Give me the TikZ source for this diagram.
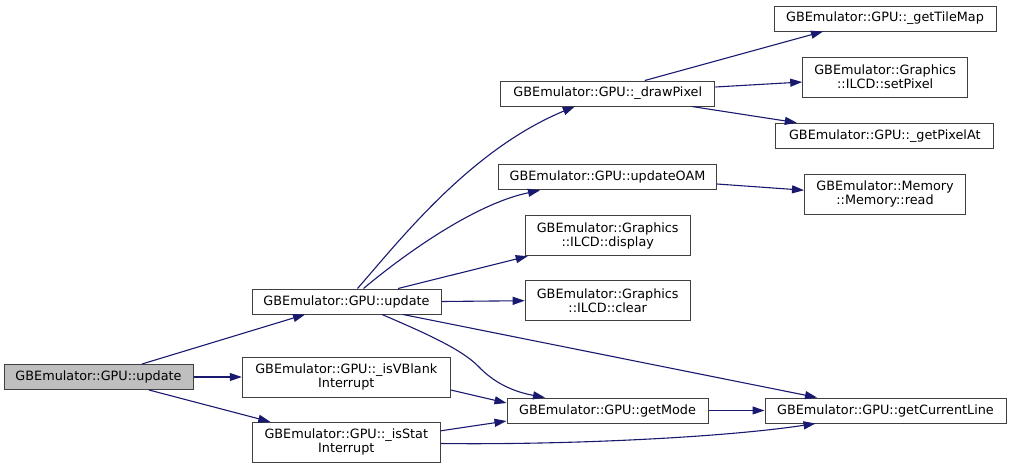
\documentclass[tikz,border=0pt]{standalone}
\usepackage{fontspec}
\setmainfont{DejaVu Sans}
\usepackage{tikz}
\usetikzlibrary{arrows.meta, positioning}
\definecolor{edgeblue}{HTML}{191970}
\newcommand{\gfont}{\fontsize{12.8}{14}\selectfont}

\begin{document}
\begin{tikzpicture}[x=1pt, y=-1pt, >={Triangle[length=12pt,width=8pt]},
    box/.style={draw=black!75, line width=1pt, fill=white, font=\gfont, inner sep=0pt, minimum height=25pt},
    box2/.style={box, minimum height=40pt, align=center},
    call/.style={->, draw=edgeblue, line width=1.1pt}]
    \useasboundingbox (0,0) rectangle (1011,469);

    % Root node
    \node[box, fill=black!25, minimum width=189pt] (root) at (98.5,377) {GBEmulator::GPU::update};

    % Called from root
    \node[box, minimum width=189pt] (upd) at (346.5,301.5) {GBEmulator::GPU::update};
    \node[box2, minimum width=208pt] (vblank) at (346.3,377) {GBEmulator::GPU::\_isVBlank\\Interrupt};
    \node[box2, minimum width=188pt] (stat) at (346.3,442.3) {GBEmulator::GPU::\_isStat\\Interrupt};

    % Called from update
    \node[box, minimum width=214pt] (drawpx) at (607.8,93.5) {GBEmulator::GPU::\_drawPixel};
    \node[box, minimum width=218pt] (oam) at (607.5,177.3) {GBEmulator::GPU::updateOAM};
    \node[box2, minimum width=165pt] (display) at (607.7,235.7) {GBEmulator::Graphics\\::ILCD::display};
    \node[box2, minimum width=165pt] (clear) at (607.7,300.7) {GBEmulator::Graphics\\::ILCD::clear};
    \node[box, minimum width=201pt] (getmode) at (607.5,410.5) {GBEmulator::GPU::getMode};

    % Leaves
    \node[box, minimum width=222pt] (tilemap) at (885,18.5) {GBEmulator::GPU::\_getTileMap};
    \node[box2, minimum width=165pt] (setpx) at (885.2,77) {GBEmulator::Graphics\\::ILCD::setPixel};
    \node[box, minimum width=218pt] (pixelat) at (884.8,135.7) {GBEmulator::GPU::\_getPixelAt};
    \node[box2, minimum width=161pt] (memread) at (885,194.2) {GBEmulator::Memory\\::Memory::read};
    \node[box, minimum width=241pt] (curline) at (885.5,410.5) {GBEmulator::GPU::getCurrentLine};

    % Arrows from root
    \draw[call] ([xshift=43.5pt]root.north) -- ([xshift=-41.5pt]upd.south);
    \draw[call] (root) -- (vblank);
    \draw[call] ([xshift=50.5pt]root.south) -- ([xshift=-76pt]stat.north);

    % Arrows from update
    \draw[call] ([xshift=11pt]upd.north) .. controls (400,240) and (470,150) .. ([xshift=-33pt]drawpx.south);
    \draw[call] ([xshift=17pt]upd.north) .. controls (395,262) and (470,205) .. ([xshift=-67.5pt]oam.south);
    \draw[call] ([xshift=51.5pt]upd.north) -- ([xshift=3pt]display.south west);
    \draw[call] (upd.east) -- (clear.west);
    \draw[call] ([xshift=35.5pt]upd.south) .. controls (430,335) and (462,350) .. (478,366) .. controls (495,384) and (515,392) .. ([xshift=-62.5pt]getmode.north);
    \draw[call] ([xshift=56.5pt]upd.south) -- ([xshift=-68.5pt]curline.north);

    % Arrows from the interrupt checks
    \draw[call] ([yshift=-13pt]vblank.east) -- ([yshift=7.5pt]getmode.west);
    \draw[call] ([yshift=11.5pt]stat.east) -- ([yshift=-10.5pt]getmode.west);
    \draw[call] ([yshift=-1.2pt]stat.east) .. controls (560,445) and (720,438) .. ([xshift=-70pt]curline.south);
    \draw[call] (getmode) -- (curline);

    % Arrows from drawPixel and updateOAM
    \draw[call] ([xshift=37pt]drawpx.north) -- ([xshift=-62pt]tilemap.south);
    \draw[call] ([yshift=6.5pt]drawpx.east) -- ([yshift=-5pt]setpx.west);
    \draw[call] ([xshift=84pt]drawpx.south) -- ([xshift=-88pt]pixelat.north);
    \draw[call] ([yshift=-6.7pt]oam.east) -- ([yshift=4pt]memread.west);
\end{tikzpicture}
\end{document}
